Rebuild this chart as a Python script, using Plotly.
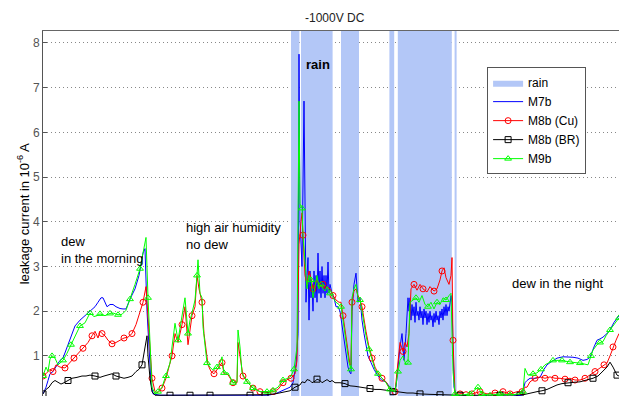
import plotly.graph_objects as go

# time in minutes, leakage current in 1e-6 A
rain_t = [600, 620, 641, 645, 724, 745, 790, 866, 878, 887, 1022, 1029, 1034, 1100]
rain_v = [0, 8.6, 0, 8.6, 0, 8.6, 0, 8.6, 0, 8.6, 0, 8.6, 0, 0]

m9b_t = [0, 7.5, 12.5, 17.5, 22.5, 30, 37.5, 42.5, 50, 60, 70, 80, 92.5, 105, 117.5, 127.5, 135, 142.5,
         155, 167.5, 175, 187.5, 197.5, 207.5, 217.5, 230, 242.5, 250, 257.5, 262.5, 267.5, 272.5, 280,
         287.5, 297.5, 307.5, 317.5, 322.5, 330, 337.5, 342.5, 347.5, 355, 362.5, 367.5, 372.5, 380, 385,
         387.5, 392.5, 397.5, 400, 405, 410, 417.5, 425, 435, 442.5, 447.5, 452.5, 462.5, 475, 485, 487.5,
         492.5, 497.5, 510, 525, 542.5, 560, 575, 587.5, 600, 612.5, 620, 627.5, 635, 640, 642.5, 647.5,
         650, 655, 660, 665, 670, 675, 680, 685, 690, 695, 700, 705, 710, 717.5, 725, 732.5, 740, 745, 750,
         755, 760, 765, 770, 772.5, 777.5, 782.5, 787.5, 792.5, 797.5, 802.5, 807.5, 815, 822.5, 830,
         837.5, 847.5, 857.5, 867.5, 880, 887.5, 892.5, 900, 907.5, 912.5, 917.5, 925, 932.5, 940, 947.5,
         955, 962.5, 970, 977.5, 985, 992.5, 1000, 1007.5, 1015, 1020, 1025, 1030, 1042.5, 1067.5, 1087.5,
         1097.5, 1117.5, 1142.5, 1167.5, 1192.5, 1200, 1205, 1212.5, 1225, 1235, 1245, 1255, 1265, 1275,
         1287.5, 1297.5, 1307.5, 1317.5, 1330, 1342.5, 1355, 1362.5, 1370, 1375, 1385, 1392.5, 1400,
         1407.5, 1417.5, 1427.5, 1440]
m9b_v = [0.55, 0.75, 0.65, 0.93, 1.0, 0.95, 0.8, 0.84, 0.9, 1.06, 1.25, 1.45, 1.67, 1.74, 1.96, 1.88, 1.9, 1.94,
         1.9, 1.95, 1.96, 1.92, 1.93, 2.02, 2.27, 2.6, 2.95, 3.3, 3.65, 2.3, 1.2, 0.3, 0.15,
         0.2, 0.3, 0.55, 0.84, 1.2, 1.73, 1.35, 1.6, 1.9, 2.3, 1.5, 1.8, 1.96, 2.25, 2.8,
         3.15, 2.4, 2.3, 1.65, 1.2, 0.84, 0.75, 0.68, 0.75, 0.85, 0.98, 0.62, 0.62, 0.4, 0.42, 1.58,
         1.2, 0.62, 0.42, 0.28, 0.2, 0.2, 0.23, 0.3, 0.46, 0.5, 0.55, 0.7, 1.2, 6.7, 4.4, 4.3,
         3.7, 3.0, 2.5, 2.8, 2.7, 2.3, 2.6, 2.8, 2.5, 2.6, 2.5, 2.45, 2.55, 2.4, 2.3, 2.2, 2.15, 2.1, 1.8,
         1.5, 1.1, 0.85, 0.7, 2.3, 2.5, 2.6, 2.3, 2.25, 2.0, 1.7, 1.45, 1.15, 0.9, 0.7,
         0.6, 0.5, 0.4, 0.25, 0.2, 0.65, 0.9, 1.0, 0.8, 0.85, 2.2, 2.25, 2.3, 2.2, 2.35,
         2.15, 2.1, 2.2, 2.05, 2.2, 2.15, 2.3, 2.25, 2.35, 2.4, 0.65, 0.15, 0.12, 0.15, 0.3,
         0.15, 0.12, 0.15, 0.13, 0.15, 0.2, 0.72, 0.57, 0.6, 0.62, 0.7, 0.8, 0.85, 0.9,
         0.9, 0.9, 0.88, 0.86, 0.85, 0.84, 0.82, 0.8, 1.0, 1.13, 1.25, 1.3, 1.32,
         1.45, 1.58, 1.7, 1.85]

m8b_cu_t = [0, 7.5, 17.5, 25, 32.5, 42.5, 55, 67.5, 77.5, 87.5, 100, 112.5, 122.5, 130, 137.5, 142.5, 147.5,
            155, 162.5, 172.5, 182.5, 192.5, 202.5, 212.5, 222.5, 232.5, 240, 250, 257.5, 262.5, 267.5,
            272.5, 280, 287.5, 297.5, 307.5, 317.5, 322.5, 330, 337.5, 347.5, 355, 362.5, 367.5, 372.5,
            380, 385, 390, 397.5, 402.5, 407.5, 412.5, 420, 427.5, 437.5, 447.5, 452.5, 462.5, 475, 485,
            487.5, 492.5, 500, 512.5, 525, 542.5, 560, 575, 587.5, 600, 612.5, 620, 630, 635, 640, 645,
            647.5, 650, 655, 660, 665, 670, 675, 680, 685, 690, 695, 700, 705, 710, 717.5, 725, 732.5, 740,
            745, 750, 755, 760, 765, 767.5, 770, 772.5, 777.5, 782.5, 787.5, 792.5, 797.5, 802.5, 807.5,
            815, 822.5, 830, 837.5, 847.5, 857.5, 867.5, 880, 887.5, 892.5, 900, 905, 910, 915, 920, 927.5,
            935, 942.5, 950, 960, 967.5, 977.5, 985, 992.5, 997.5, 1002.5, 1007.5, 1015, 1020, 1022.5,
            1025, 1030, 1042.5, 1057.5, 1072.5, 1092.5, 1110, 1130, 1150, 1167.5, 1185, 1197.5, 1205,
            1210, 1217.5, 1230, 1242.5, 1255, 1267.5, 1280, 1292.5, 1305, 1317.5, 1330, 1342.5, 1355,
            1367.5, 1380, 1392.5, 1402.5, 1410, 1417.5, 1425, 1432.5, 1440]
m8b_cu_v = [0.55, 0.6, 0.7, 0.65, 0.8, 0.75, 0.73, 0.85, 0.95, 1.05, 1.17, 1.3, 1.45, 1.55, 1.4, 1.55, 1.5,
            1.45, 1.35, 1.27, 1.3, 1.36, 1.4, 1.42, 1.5, 1.7, 1.9, 2.2, 2.55, 1.8, 1.27,
            0.5, 0.2, 0.18, 0.28, 0.5, 0.84, 1.0, 1.5, 1.3, 1.7, 2.1, 1.25, 1.6, 1.9,
            2.1, 2.8, 2.5, 2.2, 1.5, 1.1, 0.8, 0.65, 0.6, 0.72, 0.85, 0.6, 0.58, 0.4, 0.4,
            1.3, 1.0, 0.55, 0.4, 0.28, 0.2, 0.18, 0.2, 0.25, 0.4, 0.48, 0.5, 0.6, 0.9, 3.5, 4.0,
            4.2, 3.7, 2.8, 2.6, 2.9, 2.74, 2.5, 2.6, 2.7, 2.6, 2.55, 2.6, 2.5, 2.55, 2.5, 2.35, 2.25, 2.2,
            2.2, 1.9, 1.6, 1.2, 0.95, 0.8, 0.8, 2.2, 2.45, 2.5, 2.35, 2.25, 2.1, 1.8, 1.55,
            1.2, 0.95, 0.75, 0.62, 0.5, 0.42, 0.25, 0.2, 0.9, 1.3, 1.1, 1.3, 1.2, 1.5, 2.5, 2.6,
            2.47, 2.6, 2.5, 2.43, 2.55, 2.45, 2.5, 2.7, 2.9, 2.97, 2.75, 2.6, 2.8, 3.2,
            1.35, 0.15, 0.15, 0.2, 0.15, 0.2, 0.15, 0.17, 0.2, 0.15, 0.2, 0.2, 0.3,
            0.3, 0.42, 0.5, 0.53, 0.5, 0.53, 0.5, 0.5, 0.48, 0.5, 0.46, 0.46, 0.5,
            0.57, 0.65, 0.73, 0.8, 0.84, 1.0, 1.2, 1.35, 1.5]

m7b_t = [0, 7.5, 12.5, 17.5, 25, 35, 42.5, 50, 60, 70, 80, 92.5, 105, 117.5, 130, 137.5, 145, 150, 155, 160,
         167.5, 175, 182.5, 192.5, 200, 207.5, 217.5, 230, 240, 250, 255, 260, 265, 270, 275, 292.5, 317.5,
         342.5, 392.5, 442.5, 492.5, 542.5, 562.5, 580, 592.5, 605, 617.5, 625, 632.5, 637.5, 640, 642.5,
         647.5, 652.5, 655, 657.5, 660, 662.5, 665, 667.5, 670, 672.5, 675, 677.5, 680, 682.5, 685, 687.5,
         690, 692.5, 695, 697.5, 700, 702.5, 705, 707.5, 710, 712.5, 715, 717.5, 722.5, 727.5, 732.5,
         737.5, 742.5, 747.5, 752.5, 757.5, 762.5, 767.5, 770, 772.5, 777.5, 782.5, 787.5, 792.5, 797.5,
         802.5, 807.5, 812.5, 820, 827.5, 837.5, 847.5, 857.5, 867.5, 875, 882.5, 887.5, 892.5, 897.5,
         902.5, 907.5, 912.5, 915, 917.5, 920, 922.5, 925, 927.5, 930, 932.5, 935, 937.5, 940, 942.5, 945,
         947.5, 950, 952.5, 955, 957.5, 960, 962.5, 965, 967.5, 970, 972.5, 975, 977.5, 980, 982.5, 985,
         987.5, 990, 992.5, 995, 997.5, 1000, 1002.5, 1005, 1007.5, 1010, 1012.5, 1015, 1017.5, 1020,
         1022.5, 1025, 1027.5, 1032.5, 1067.5, 1117.5, 1167.5, 1197.5, 1205, 1210, 1217.5, 1230, 1242.5,
         1252.5, 1260, 1267.5, 1275, 1285, 1300, 1312.5, 1325, 1337.5, 1350, 1360, 1367.5, 1377.5, 1385,
         1392.5, 1400, 1410, 1417.5, 1427.5, 1440]
m7b_v = [0.15, 0.3, 0.45, 0.6, 0.65, 0.8, 0.9, 0.95, 1.2, 1.45, 1.67, 1.8, 1.9, 2.0, 2.1, 2.2, 2.3, 2.3, 2.2, 2.1,
         2.15, 2.15, 2.1, 2.06, 2.05, 2.05, 2.27, 2.5, 2.8, 3.3, 3.4, 2.0, 1.2, 0.4, 0.15, 0.12, 0.12,
         0.12, 0.12, 0.12, 0.12, 0.12, 0.12, 0.15, 0.2, 0.25, 0.3, 0.4, 0.8, 1.5, 7.75, 4.0,
         3.0, 6.7, 3.6, 2.2, 2.8, 3.2, 1.8, 2.9, 2.3, 2.6, 2.0, 2.9, 2.3, 2.8, 2.2, 3.3,
         2.4, 2.9, 2.3, 3.0, 2.4, 2.8, 2.3, 2.8, 2.4, 3.1, 2.4, 2.6, 2.4, 2.3, 2.1,
         2.1, 2.0, 1.7, 1.3, 1.0, 0.75, 0.62, 0.6, 2.0, 2.6, 2.85, 2.2, 2.3, 1.8,
         1.5, 1.2, 1.0, 0.85, 0.7, 0.55, 0.45, 0.42, 0.3, 0.2, 0.3, 0.8, 1.2, 1.5,
         0.9, 1.5, 2.3, 2.0, 2.3, 1.8, 2.15, 1.9, 2.1, 1.75, 2.2, 1.9, 2.0, 1.8, 2.1, 1.85,
         2.0, 1.7, 2.05, 1.85, 2.0, 1.7, 1.95, 1.75, 2.0, 1.8, 1.9, 1.65, 1.95, 1.75, 2.0, 1.8,
         1.9, 1.7, 2.0, 1.85, 2.05, 1.8, 2.1, 1.9, 2.15, 1.9, 2.1, 2.0, 2.2, 2.35,
         2.2, 1.3, 0.3, 0.12, 0.1, 0.1, 0.1, 0.12, 0.4, 0.45, 0.5, 0.5, 0.52,
         0.7, 0.8, 0.85, 0.9, 0.95, 0.98, 0.98, 0.97, 0.95, 0.9, 0.92, 0.97, 1.2, 1.35,
         1.38, 1.42, 1.5, 1.58, 1.75, 1.9]

m8b_br_t = [0, 7.5, 15, 22.5, 30, 37.5, 45, 52.5, 62.5, 72.5, 85, 97.5, 107.5, 117.5, 130, 142.5, 152.5, 162.5,
            172.5, 182.5, 192.5, 202.5, 212.5, 222.5, 232.5, 240, 247.5, 252.5, 257.5, 260, 262.5, 267.5,
            272.5, 280, 317.5, 367.5, 417.5, 467.5, 517.5, 555, 580, 600, 617.5, 630, 642.5, 647.5, 655,
            660, 667.5, 672.5, 680, 685, 692.5, 697.5, 705, 710, 717.5, 722.5, 730, 742.5, 755, 767.5, 780,
            792.5, 805, 817.5, 830, 842.5, 860, 875, 892.5, 910, 925, 942.5, 967.5, 992.5, 1017.5, 1042.5,
            1092.5, 1142.5, 1192.5, 1200, 1210, 1222.5, 1235, 1247.5, 1260, 1272.5, 1285, 1297.5, 1312.5,
            1327.5, 1342.5, 1357.5, 1375, 1387.5, 1400, 1410, 1417.5, 1425, 1435, 1440]
m8b_br_v = [0.15, 0.25, 0.3, 0.4, 0.45, 0.4, 0.37, 0.4, 0.45, 0.5, 0.52, 0.55, 0.55, 0.57, 0.55, 0.52, 0.55, 0.58,
            0.6, 0.55, 0.52, 0.5, 0.52, 0.55, 0.65, 0.7, 0.8, 1.1, 1.3, 1.45, 1.0, 0.5,
            0.2, 0.12, 0.12, 0.12, 0.12, 0.12, 0.12, 0.13, 0.15, 0.18, 0.22, 0.3, 0.35, 0.42, 0.4,
            0.47, 0.45, 0.4, 0.43, 0.48, 0.45, 0.4, 0.44, 0.47, 0.42, 0.45, 0.4, 0.4, 0.38, 0.33, 0.32,
            0.3, 0.28, 0.27, 0.25, 0.25, 0.23, 0.2, 0.18, 0.17, 0.17, 0.15, 0.14, 0.13, 0.13, 0.12,
            0.12, 0.12, 0.12, 0.13, 0.15, 0.18, 0.2, 0.22, 0.25, 0.3, 0.35, 0.38, 0.4,
            0.41, 0.42, 0.45, 0.5, 0.55, 0.65, 0.75, 0.86, 0.75, 0.57, 0.55]

FONT = "Arial, Liberation Sans, sans-serif"


def marker_idx(t, step):
    idx = []
    g = t[0]
    while g <= t[-1]:
        i = min(range(len(t)), key=lambda k: abs(t[k] - g))
        if i not in idx:
            idx.append(i)
        g += step
    return idx


fig = go.Figure()
fig.add_trace(go.Scatter(x=rain_t, y=rain_v, mode="lines", line=dict(width=0, shape="hv"),
                         fill="tozeroy", fillcolor="#B3C7F7", name="rain", showlegend=True,
                         hoverinfo="skip"))

series = [
    ("M7b", m7b_t, m7b_v, "#0000FF", None, None),
    ("M8b (Cu)", m8b_cu_t, m8b_cu_v, "#FF0000", "circle-open", 25),
    ("M8b (BR)", m8b_br_t, m8b_br_v, "#000000", "square-open", 62.5),
    ("M9b", m9b_t, m9b_v, "#00FF00", "triangle-up-open", 24),
]
for name, t, v, col, sym, step in series:
    fig.add_trace(go.Scatter(x=t, y=v, mode="lines", line=dict(color=col, width=1),
                             showlegend=False, hoverinfo="skip"))
    if sym:
        idx = marker_idx(t, step)
        fig.add_trace(go.Scatter(x=[t[i] for i in idx], y=[v[i] for i in idx], mode="markers",
                                 marker=dict(symbol=sym, size=6, color=col, line=dict(width=1, color=col)),
                                 showlegend=False, hoverinfo="skip"))
    fig.add_trace(go.Scatter(x=[None], y=[None], mode="lines+markers" if sym else "lines",
                             line=dict(color=col, width=1), name=name,
                             marker=dict(symbol=sym or "circle", size=6, color=col,
                                         line=dict(width=1, color=col))))

annots = [
    dict(x=40, y=3.37, text="dew<br>in the morning", xanchor="left", yanchor="middle", align="left"),
    dict(x=352.5, y=3.68, text="high air humidity<br>no dew", xanchor="left", yanchor="middle", align="left"),
    dict(x=652.5, y=7.51, text="<b>rain</b>", xanchor="left", yanchor="middle", align="left"),
    dict(x=1167.5, y=2.61, text="dew in the night", xanchor="left", yanchor="middle", align="left"),
]
for a in annots:
    a.update(showarrow=False, font=dict(family=FONT, size=13, color="black"))
    fig.add_annotation(**a)
fig.add_annotation(x=730, xref="x", y=1.036, yref="paper", text="-1000V DC", showarrow=False,
                   xanchor="center", yanchor="middle", font=dict(family=FONT, size=12, color="#222"))
fig.add_annotation(x=-0.035, xref="paper", y=0.5, yref="paper",
                   text="leakage current in 10<sup>-6</sup> A", textangle=-90, showarrow=False,
                   xanchor="center", yanchor="middle", font=dict(family=FONT, size=13, color="black"))

fig.update_layout(
    width=619, height=396, margin=dict(l=43, r=0, t=31, b=0),
    paper_bgcolor="white", plot_bgcolor="white",
    font=dict(family=FONT, size=12, color="#333"),
    xaxis=dict(range=[0, 1440], side="top", showline=True, linecolor="#666", linewidth=1,
               showticklabels=False, showgrid=False, zeroline=False, ticks=""),
    yaxis=dict(range=[0.103, 8.268], tickvals=[1, 2, 3, 4, 5, 6, 7, 8], showline=True, linecolor="#555",
               linewidth=1, ticks="inside", ticklen=4, tickcolor="#555", showgrid=True,
               gridcolor="#888", griddash="1px,3px", gridwidth=1, zeroline=False,
               tickfont=dict(family=FONT, size=12, color="#555")),
    legend=dict(x=0.771, y=0.901, xanchor="left", yanchor="top", bgcolor="white",
                bordercolor="#555", borderwidth=1, font=dict(family=FONT, size=12, color="black"),
                tracegroupgap=0),
    showlegend=True,
)
fig.write_html("out.html")
